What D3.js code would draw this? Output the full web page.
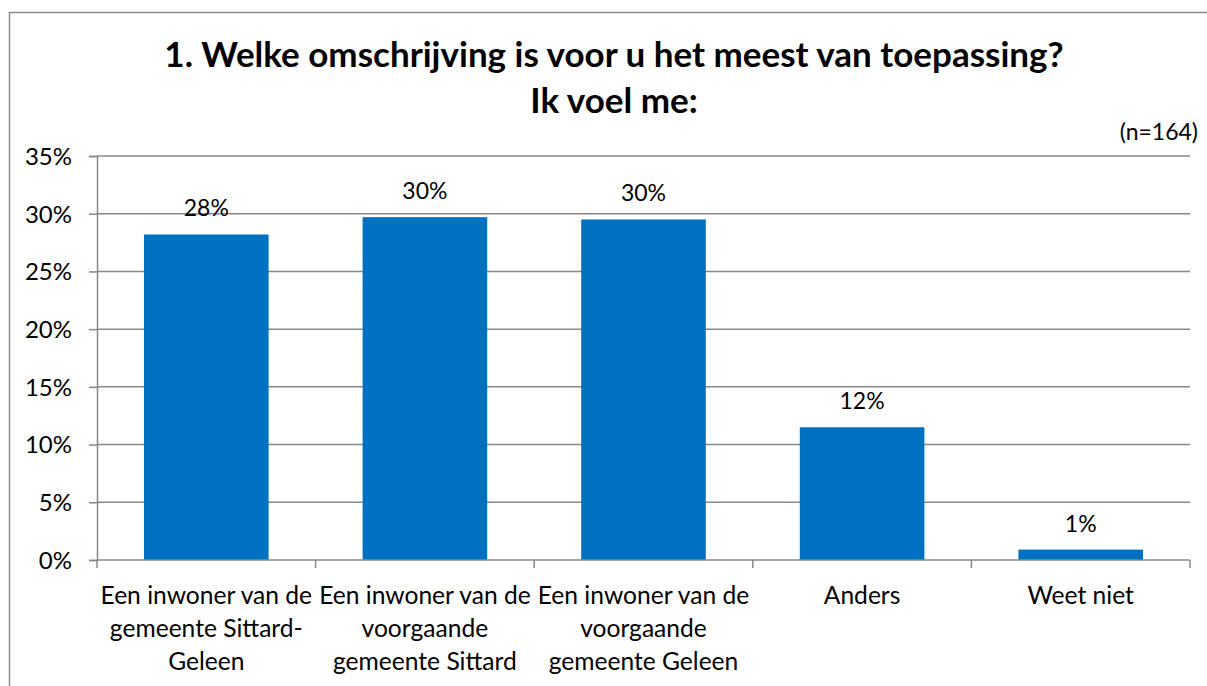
<!DOCTYPE html>
<html><head><meta charset="utf-8">
<script src="https://cdn.jsdelivr.net/npm/d3@7"></script>
<style>
html,body{margin:0;padding:0;background:#fff;}
svg{display:block;font-family:Lato,"Open Sans",sans-serif;}
</style></head>
<body><svg id="c" width="1207" height="686"></svg>
<script>
const categories = [
  ["Een inwoner van de","gemeente Sittard-","Geleen"],
  ["Een inwoner van de","voorgaande","gemeente Sittard"],
  ["Een inwoner van de","voorgaande","gemeente Geleen"],
  ["Anders"],
  ["Weet niet"]
];
const values = [28.2, 29.7, 29.5, 11.5, 0.9];
const valueLabels = ["28%","30%","30%","12%","1%"];
const yTicks = [0,5,10,15,20,25,30,35];
const titleLines = ["1. Welke omschrijving is voor u het meest van toepassing?","Ik voel me:"];
const note = "(n=164)";

const svg = d3.select("#c");
const gray = "#888888";
const pLeft = 97, pRight = 1190, pTop = 156, pBottom = 560;

svg.append("rect").attr("x",9.5).attr("y",12.5).attr("width",1220).attr("height",700)
  .attr("fill","#fff").attr("stroke","#8c8c8c").attr("stroke-width",1.5);

const x = d3.scaleBand().domain(d3.range(categories.length)).range([pLeft,pRight]).paddingInner(0.43).paddingOuter(0.215);
const xb = d3.scaleBand().domain(d3.range(categories.length)).range([pLeft,pRight]);
const y = d3.scaleLinear().domain([0,35]).range([pBottom,pTop]);

// gridlines
svg.append("g").selectAll("line").data(yTicks.filter(d=>d>0)).join("line")
  .attr("x1",pLeft).attr("x2",pRight).attr("y1",d=>y(d)).attr("y2",d=>y(d))
  .attr("stroke",gray).attr("stroke-width",1.5);

// bars
svg.append("g").selectAll("rect").data(values).join("rect")
  .attr("x",(d,i)=>x(i)).attr("width",x.bandwidth())
  .attr("y",d=>y(d)).attr("height",d=>pBottom-y(d))
  .attr("fill","#0070C0");

// y axis
const yAxis = svg.append("g").attr("transform",`translate(${pLeft},0)`)
  .call(d3.axisLeft(y).tickValues(yTicks).tickFormat(d=>d+"%").tickSize(8).tickPadding(17));
yAxis.select(".domain").attr("stroke",gray).attr("stroke-width",1.5);
yAxis.selectAll(".tick line").attr("stroke",gray).attr("stroke-width",1.5);
yAxis.selectAll(".tick text").attr("font-size",24).attr("font-family","Lato").attr("fill","#000").attr("dy","0.35em");

// x axis
const xAxis = svg.append("g").attr("transform",`translate(0,${pBottom})`);
xAxis.append("line").attr("x1",pLeft).attr("x2",pRight).attr("stroke",gray).attr("stroke-width",1.5);
xAxis.selectAll("line.t").data(d3.range(categories.length+1)).join("line").attr("class","t")
  .attr("x1",i=>pLeft+i*xb.step()).attr("x2",i=>pLeft+i*xb.step()).attr("y1",0).attr("y2",8)
  .attr("stroke",gray).attr("stroke-width",1.5);

// category labels
svg.append("g").selectAll("text").data(categories).join("text")
  .attr("text-anchor","middle").attr("font-size",24.6).attr("fill","#000")
  .each(function(lines,i){
    const t = d3.select(this);
    lines.forEach((l,j)=>t.append("tspan").attr("x",xb(i)+xb.bandwidth()/2).attr("y",604+j*33).text(l));
  });

// value labels
svg.append("g").selectAll("text").data(values).join("text")
  .attr("x",(d,i)=>x(i)+x.bandwidth()/2).attr("y",d=>y(d)-18)
  .attr("text-anchor","middle").attr("font-size",23).attr("fill","#000")
  .text((d,i)=>valueLabels[i]);

// title
svg.append("g").selectAll("text").data(titleLines).join("text")
  .attr("x",614).attr("y",(d,i)=>67+i*46).attr("text-anchor","middle")
  .attr("font-size",35).attr("font-weight","bold").attr("fill","#000").text(d=>d);

svg.append("text").attr("x",1198).attr("y",140).attr("text-anchor","end")
  .attr("font-size",23).attr("fill","#000").text(note);
</script></body></html>
